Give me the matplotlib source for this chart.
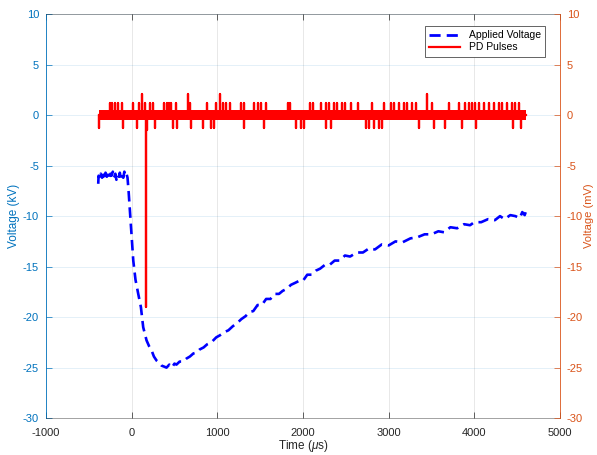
import matplotlib
matplotlib.use("Agg")
import matplotlib.pyplot as plt
from matplotlib.lines import Line2D

# applied voltage (kV) vs time (us)
volt_t = [-390, -386, -372, -360, -345, -330, -318, -305, -290, -275, -262, -248,
          -235, -220, -205, -190, -178, -165, -150, -138, -125, -110, -98, -85,
          -72, -60, -48, -35, -20, 0, 19, 45, 77, 108, 135, 174, 205, 233, 260,
          291, 320, 349, 380, 407, 440, 470, 500, 523, 560, 600, 640, 680, 720,
          760, 794, 840, 880, 930, 988, 1030, 1080, 1130, 1181, 1230, 1280, 1330,
          1376, 1420, 1470, 1520, 1570, 1620, 1670, 1720, 1763, 1810, 1860, 1910,
          1957, 2000, 2050, 2100, 2150, 2200, 2260, 2314, 2370, 2430, 2490, 2550,
          2628, 2700, 2770, 2840, 2920, 3000, 3080, 3160, 3255, 3333, 3420, 3500,
          3580, 3647, 3720, 3800, 3880, 3950, 4000, 4080, 4160, 4240, 4300, 4353,
          4420, 4480, 4530, 4560, 4588, 4600]
volt_kv = [-6.8, -6.0, -6.3, -5.8, -6.2, -5.9, -6.4, -5.7, -6.1, -5.9, -6.3, -5.8,
           -6.0, -5.6, -6.2, -5.8, -6.4, -5.9, -6.1, -5.7, -6.3, -5.9, -6.2, -5.6,
           -6.0, -5.8, -6.2, -7.6, -9.5, -12.0, -14.4, -16.3, -17.7, -19.0, -21.0,
           -22.3, -22.9, -23.3, -23.9, -24.3, -24.5, -24.8, -24.9, -25.0, -24.7,
           -25.0, -24.6, -24.7, -24.4, -24.4, -24.1, -23.9, -23.6, -23.5, -23.2,
           -23.0, -22.7, -22.5, -22.0, -21.8, -21.5, -21.3, -20.9, -20.6, -20.2,
           -19.9, -19.5, -19.4, -18.8, -18.8, -18.2, -18.2, -17.7, -17.7, -17.4,
           -17.2, -16.8, -16.6, -16.4, -16.4, -15.8, -15.8, -15.4, -15.2, -14.8,
           -14.8, -14.4, -14.4, -13.9, -14.0, -13.6, -13.6, -13.2, -13.3, -12.8,
           -12.9, -12.5, -12.6, -12.2, -12.1, -11.8, -11.8, -11.5, -11.6, -11.1,
           -11.2, -10.8, -10.9, -10.6, -10.6, -10.3, -10.4, -10.0, -10.3, -9.9,
           -10.0, -10.2, -9.6, -9.9, -9.6]

# PD pulses (mV): spikes on a noisy zero baseline
pd_start, pd_end = -380, 4600
pd_noise = 0.5
pd_spike_t = [-377, -252, -226, -194, -163, -116, -98, 19, 65, 88, 116, 155, 165,
              174, 213, 251, 271, 376, 407, 437, 465, 484, 515, 530, 658, 678, 698,
              833, 879, 922, 960, 988, 1027, 1065, 1105, 1143, 1279, 1309, 1317,
              1434, 1472, 1512, 1550, 1570, 1821, 1852, 1919, 1977, 2015, 2085,
              2112, 2209, 2267, 2274, 2306, 2326, 2364, 2402, 2453, 2492, 2558,
              2647, 2733, 2771, 2809, 2829, 2887, 2926, 2945, 3023, 3062, 3120,
              3178, 3216, 3274, 3314, 3352, 3449, 3507, 3527, 3663, 3701, 3817,
              3856, 3895, 3934, 3972, 4012, 4023, 4050, 4108, 4166, 4224, 4283,
              4321, 4379, 4437, 4457, 4477, 4527, 4540]
pd_spike_mv = [-1.3, 1.2, 1.2, 1.2, 1.2, 1.2, -1.3, 1.2, -1.3, 1.2, 2.1, 1.2, -19.0,
               -1.5, 1.2, 1.2, -1.3, 1.2, 1.2, 1.2, 1.2, -1.3, 1.2, -1.3, 2.1, 1.2, -1.3,
               -1.3, 1.2, -1.3, -1.3, 1.2, 2.1, 1.2, 1.2, 1.2, 1.2, 1.2, -1.3,
               1.2, 1.2, 1.2, -1.3, 1.2, 1.2, 1.2, -1.3, -1.3, -1.3, 1.2,
               1.2, 1.2, 1.2, -1.3, 1.2, -1.3, 1.2, 1.2, 1.2, 1.2, 1.2,
               1.2, -1.3, -1.3, 1.2, -1.3, -1.3, -1.3, 1.2, 1.2, 1.2, 1.2,
               1.2, 1.2, 1.2, 1.2, -1.3, 2.1, 1.2, -1.3, -1.3, 1.2, 1.2,
               -1.3, 1.2, 1.2, 1.2, 1.2, -1.3, 1.2, 1.2, 1.2, 1.2, 1.2,
               1.2, 1.2, 1.2, -1.3, 1.2, 1.2, -1.3]

pd_t, pd_mv = [pd_start], [0.0]
for t, v in zip(pd_spike_t, pd_spike_mv):
    pd_t += [t, t, t]
    pd_mv += [0.0, v, 0.0]
pd_t.append(pd_end)
pd_mv.append(0.0)

BLUE_AX = "#0072BD"
ORANGE_AX = "#D95319"
DARK = "#262626"

plt.rcParams.update({"font.family": ["Liberation Sans", "DejaVu Sans"],
                     "font.size": 8, "axes.unicode_minus": False,
                     "mathtext.fontset": "custom",
                     "mathtext.it": "Liberation Sans:italic"})

fig = plt.figure(figsize=(5.97, 4.55), dpi=100)
ax = fig.add_axes([0.077, 0.081, 0.861, 0.888])
ax2 = ax.twinx()

ax.plot(volt_t, volt_kv, color="#0000FF", lw=1.9, ls=(0, (4, 2.2)))
ax2.fill_between([pd_start, pd_end], -pd_noise, pd_noise, color="#FF0000", lw=0)
ax2.plot(pd_t, pd_mv, color="#FF0000", lw=1.6)

for a in (ax, ax2):
    a.set_ylim(-30, 10)
    a.set_yticks(range(-30, 11, 5))
ax.set_xlim(-1000, 5000)
ax.set_xticks(range(-1000, 5001, 1000))

ax.set_axisbelow(True)
ax.grid(axis="x", color=DARK, alpha=0.15, lw=0.5)
ax.grid(axis="y", color=BLUE_AX, alpha=0.15, lw=0.5)

ax.spines["left"].set_color(BLUE_AX)
ax.spines["right"].set_visible(False)
for s in ("top", "bottom"):
    ax.spines[s].set_color(DARK)
    ax.spines[s].set_alpha(0.5)
for s in ("left", "top", "bottom"):
    ax2.spines[s].set_visible(False)
ax2.spines["right"].set_color(ORANGE_AX)
for sp in list(ax.spines.values()) + list(ax2.spines.values()):
    sp.set_linewidth(0.6)

ax.tick_params(axis="x", direction="in", length=4, width=0.5, colors=DARK,
               top=True, labelsize=8, pad=7)
ax.tick_params(axis="y", direction="in", length=4, width=0.5, colors=BLUE_AX,
               labelsize=8, pad=5)
ax2.tick_params(axis="y", direction="in", length=4, width=0.5, colors=ORANGE_AX,
                labelsize=8, pad=5)

ax.set_xlabel(r"Time ($\mu$s)", fontsize=8.5, color=DARK, labelpad=0)
ax.set_ylabel("Voltage (kV)", fontsize=8.5, color=BLUE_AX, labelpad=2)
ax2.set_ylabel("Voltage (mV)", fontsize=8, color=ORANGE_AX, labelpad=1)

handles = [Line2D([], [], color="#0000FF", lw=2, ls=(0, (4, 2.2))),
           Line2D([], [], color="#FF0000", lw=1.6)]
leg = ax2.legend(handles, ["Applied Voltage", "PD Pulses"], loc="upper right",
                 bbox_to_anchor=(0.971, 0.970), fontsize=7.5, fancybox=False,
                 framealpha=1, edgecolor=DARK, borderpad=0.4, labelspacing=0.2,
                 handlelength=3.0, handletextpad=0.8, borderaxespad=0)
leg.get_frame().set_linewidth(0.5)

fig.savefig("out.png", dpi=100)
